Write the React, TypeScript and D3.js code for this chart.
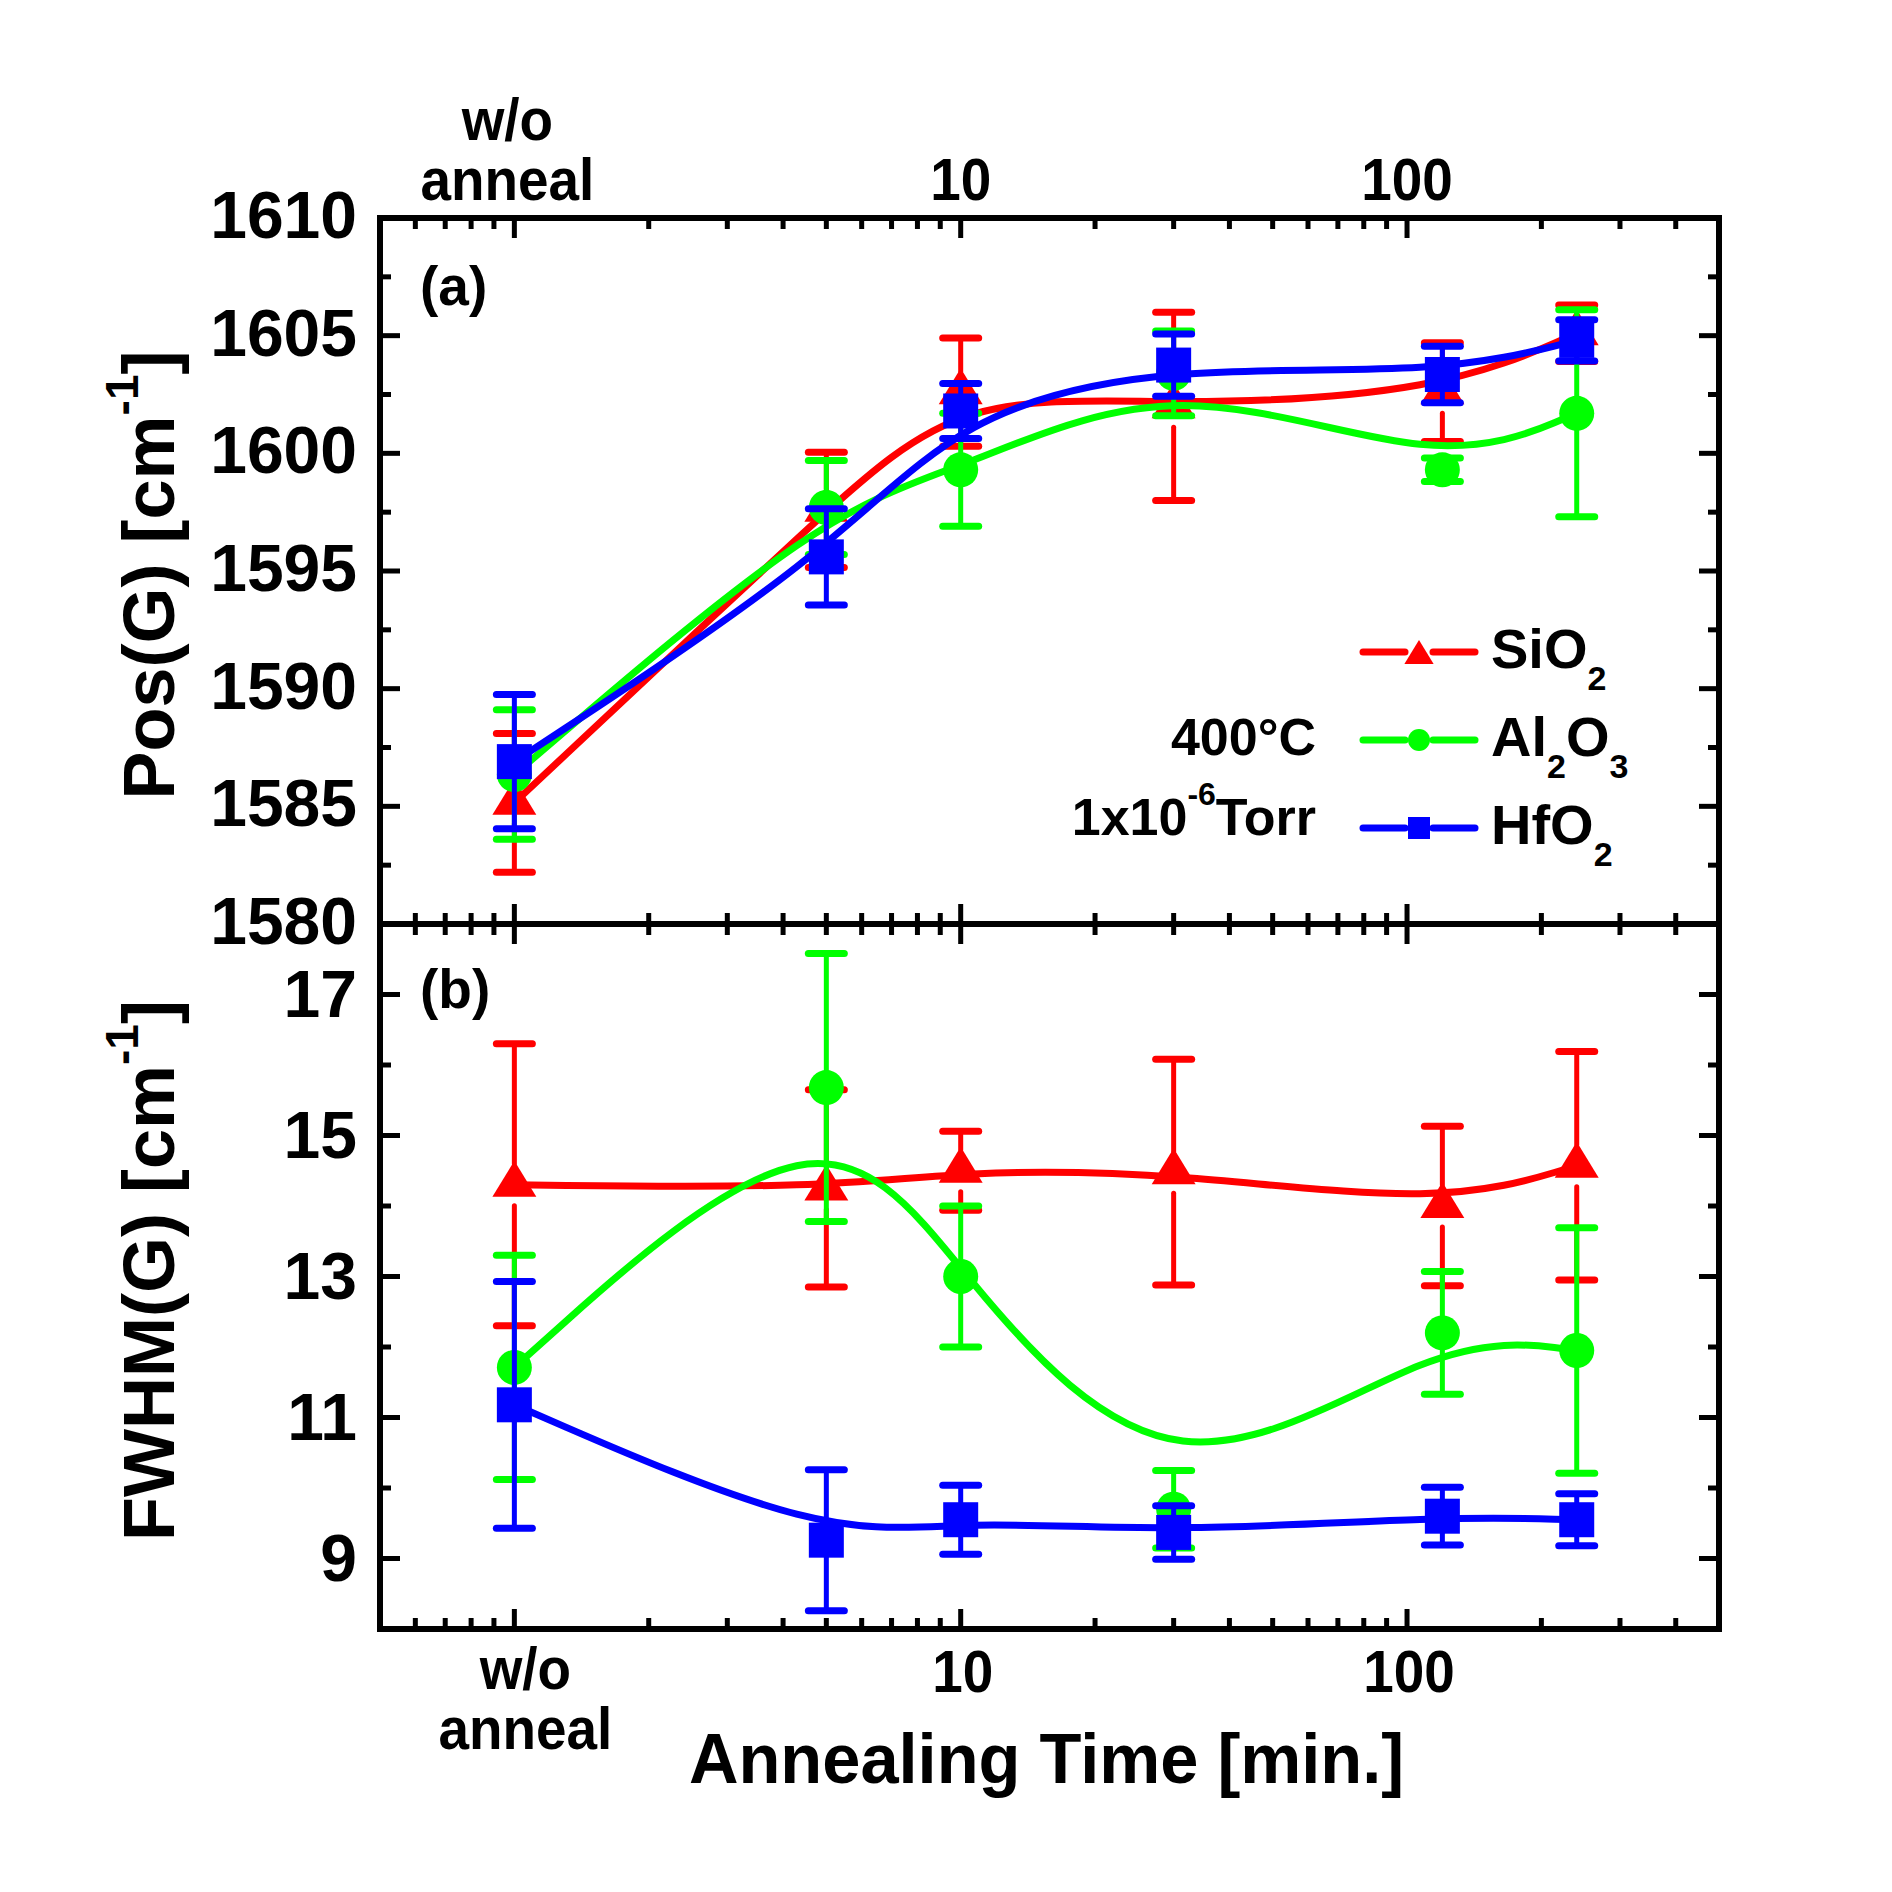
import React from "react";
import * as d3 from "d3";

// ---------- data ----------
const times = [1, 5, 10, 30, 120, 240]; // 1 = "w/o anneal"

const posSiO2 = [1585.15, 1597.6, 1602.6, 1602.0, 1602.6, 1605.1];
const posSiO2Err = [2.95, 2.45, 2.3, 4.0, 2.1, 1.2];
const posAl2O3 = [1586.35, 1597.7, 1599.3, 1603.4, 1599.3, 1601.7];
const posAl2O3Err = [2.75, 2.0, 2.4, 1.8, 0.5, 4.4];
const posHfO2 = [1586.9, 1595.6, 1601.8, 1603.75, 1603.35, 1604.8];
const posHfO2Err = [2.85, 2.05, 1.17, 1.32, 1.2, 0.88];

const fwSiO2 = [14.3, 14.25, 14.5, 14.48, 14.0, 14.57];
const fwSiO2Err = [2.0, 1.4, 0.56, 1.6, 1.13, 1.62];
const fwAl2O3 = [11.71, 15.68, 13.0, 9.7, 12.2, 11.95];
const fwAl2O3Err = [1.59, 1.9, 1.0, 0.55, 0.87, 1.74];
const fwHfO2 = [11.18, 9.26, 9.55, 9.37, 9.6, 9.55];
const fwHfO2Err = [1.75, 1.0, 0.49, 0.38, 0.41, 0.37];

const posTicks = [1580, 1585, 1590, 1595, 1600, 1605, 1610];
const posMinor = [1582.5, 1587.5, 1592.5, 1597.5, 1602.5, 1607.5];
const fwhmTicks = [9, 11, 13, 15, 17];
const fwhmMinor = [10, 12, 14, 16];
const xMajorTicks = [1, 10, 100];
const xTickLabels = [["w/o", "anneal"], ["10"], ["100"]];

const seriesNames = ["SiO2", "Al2O3", "HfO2"];
const seriesColors = ["#ff0000", "#00ff00", "#0000ff"];
const seriesShapes = ["triangle", "circle", "square"];

// ---------- layout ----------
const W = 1892;
const H = 1892;
const X0 = 380;
const X1 = 1719;
const YT = 218;
const YM = 924;
const YB = 1629;
const FONT = "'Liberation Sans', Arial, Helvetica, sans-serif";

const x = d3.scaleLog().domain([0.5, 500]).range([X0, X1]);
const yTop = d3.scaleLinear().domain([1580, 1610]).range([YM, YT]);
const yBot = d3.scaleLinear().domain([8, 18]).range([YB, YM]);

const xMinor = x
  .ticks()
  .filter((t) => !xMajorTicks.includes(t) && t > 0.5 && t < 500);

function Marker({ shape, cx, cy, s, color }: any) {
  if (shape === "triangle") {
    const w = s * 1.22;
    const h = s;
    const p = [
      [cx - w / 2, cy + h / 3],
      [cx + w / 2, cy + h / 3],
      [cx, cy - (2 * h) / 3],
    ];
    return <polygon points={p.map((q) => q.join(",")).join(" ")} fill={color} />;
  }
  if (shape === "circle") {
    return <circle cx={cx} cy={cy} r={s / 2} fill={color} />;
  }
  return <rect x={cx - s / 2} y={cy - s / 2} width={s} height={s} fill={color} />;
}

function Series({ vals, errs, y, color, shape }: any) {
  const pts: [number, number][] = times.map((t, i) => [t, vals[i]]);
  const line = d3
    .line<[number, number]>()
    .x((d) => x(d[0]))
    .y((d) => y(d[1]))
    .curve(d3.curveBasis);
  const gap = shape === "triangle" ? 21 : 17;
  return (
    <g>
      <path d={line(pts) || ""} fill="none" stroke={color} strokeWidth={7} />
      {times.map((t, i) => {
        const cx = x(t);
        const cy = y(vals[i]);
        const top = y(vals[i] + errs[i]);
        const bot = y(vals[i] - errs[i]);
        return (
          <g key={i} stroke={color} strokeLinecap="round">
            {cy - top > gap && <line x1={cx} x2={cx} y1={cy - gap} y2={top} strokeWidth={5} />}
            {bot - cy > gap && <line x1={cx} x2={cx} y1={cy + gap} y2={bot} strokeWidth={5} />}
            <line x1={cx - 18} x2={cx + 18} y1={top} y2={top} strokeWidth={7} />
            <line x1={cx - 18} x2={cx + 18} y1={bot} y2={bot} strokeWidth={7} />
          </g>
        );
      })}
      {times.map((t, i) => (
        <Marker key={i} shape={shape} cx={x(t)} cy={y(vals[i])} s={shape === "triangle" ? 36 : 35} color={color} />
      ))}
    </g>
  );
}

export default function App() {
  const posVals = [posSiO2, posAl2O3, posHfO2];
  const posErrs = [posSiO2Err, posAl2O3Err, posHfO2Err];
  const fwVals = [fwSiO2, fwAl2O3, fwHfO2];
  const fwErrs = [fwSiO2Err, fwAl2O3Err, fwHfO2Err];

  const tickW = 5;
  const maj = 20;
  const mnr = 11;

  const xTickMarks = (yy: number, dir: number, k: string) => (
    <g key={k} stroke="#000" strokeWidth={tickW}>
      {xMajorTicks.map((t) => (
        <line key={"M" + t} x1={x(t)} x2={x(t)} y1={yy} y2={yy + dir * maj} />
      ))}
      {xMinor.map((t) => (
        <line key={"m" + t} x1={x(t)} x2={x(t)} y1={yy} y2={yy + dir * mnr} />
      ))}
    </g>
  );

  const yTickMarks = (y: any, major: number[], minor: number[], k: string) => (
    <g key={k} stroke="#000" strokeWidth={tickW}>
      {major.map((v) => (
        <g key={"M" + v}>
          <line x1={X0} x2={X0 + maj} y1={y(v)} y2={y(v)} />
          <line x1={X1} x2={X1 - maj} y1={y(v)} y2={y(v)} />
        </g>
      ))}
      {minor.map((v) => (
        <g key={"m" + v}>
          <line x1={X0} x2={X0 + mnr} y1={y(v)} y2={y(v)} />
          <line x1={X1} x2={X1 - mnr} y1={y(v)} y2={y(v)} />
        </g>
      ))}
    </g>
  );

  const legendY = [652, 740, 828];

  return (
    <svg
      width={W}
      height={H}
      style={{ position: "absolute", left: 0, top: 0, background: "#fff" }}
      fontFamily={FONT}
      fontWeight="bold"
    >
      <rect x={0} y={0} width={W} height={H} fill="#fff" />

      {/* series */}
      {[0, 1, 2].map((i) => (
        <Series key={"p" + i} vals={posVals[i]} errs={posErrs[i]} y={yTop} color={seriesColors[i]} shape={seriesShapes[i]} />
      ))}
      {[0, 1, 2].map((i) => (
        <Series key={"f" + i} vals={fwVals[i]} errs={fwErrs[i]} y={yBot} color={seriesColors[i]} shape={seriesShapes[i]} />
      ))}

      {/* frames */}
      <rect x={X0} y={YT} width={X1 - X0} height={YM - YT} fill="none" stroke="#000" strokeWidth={6} />
      <rect x={X0} y={YM} width={X1 - X0} height={YB - YM} fill="none" stroke="#000" strokeWidth={6} />

      {xTickMarks(YT, 1, "t")}
      {xTickMarks(YM, -1, "m1")}
      {xTickMarks(YM, 1, "m2")}
      {xTickMarks(YB, -1, "b")}
      {yTickMarks(yTop, posTicks, posMinor, "yt")}
      {yTickMarks(yBot, fwhmTicks, fwhmMinor, "yb")}

      {/* y tick labels */}
      {posTicks.map((v) => (
        <text key={"pl" + v} x={357} y={yTop(v) + 20} textAnchor="end" fontSize={66}>
          {v}
        </text>
      ))}
      {fwhmTicks.map((v) => (
        <text key={"fl" + v} x={357} y={yBot(v) + 22} textAnchor="end" fontSize={66}>
          {v}
        </text>
      ))}

      {/* x tick labels, top */}
      {xMajorTicks.map((t, i) => {
        const lines = xTickLabels[i];
        const cx = lines.length > 1 ? x(t) - 7 : x(t);
        return lines.map((s, j) => (
          <text
            key={"xt" + i + j}
            transform={`translate(${cx}, ${200 - (lines.length - 1 - j) * 60}) scale(0.93, 1)`}
            textAnchor="middle"
            fontSize={59}
          >
            {s}
          </text>
        ));
      })}
      {/* x tick labels, bottom */}
      {xMajorTicks.map((t, i) => {
        const lines = xTickLabels[i];
        const cx = lines.length > 1 ? x(t) + 11 : x(t) + 2;
        return lines.map((s, j) => (
          <text
            key={"xb" + i + j}
            transform={`translate(${cx}, ${(lines.length > 1 ? 1689 : 1692) + j * 60}) scale(0.93, 1)`}
            textAnchor="middle"
            fontSize={59}
          >
            {s}
          </text>
        ));
      })}

      {/* axis titles */}
      <text transform={`translate(${(X0 + X1) / 2 - 3}, 1783) scale(0.98, 1)`} textAnchor="middle" fontSize={70}>
        Annealing Time [min.]
      </text>
      <text transform={`translate(174, ${(YT + YM) / 2 + 4}) rotate(-90)`} textAnchor="middle" fontSize={72}>
        Pos(G) [cm
        <tspan dy={-36} fontSize={46}>-1</tspan>
        <tspan dy={36}>]</tspan>
      </text>
      <text transform={`translate(174, ${(YM + YB) / 2 - 6}) rotate(-90)`} textAnchor="middle" fontSize={72}>
        FWHM(G) [cm
        <tspan dy={-36} fontSize={46}>-1</tspan>
        <tspan dy={36}>]</tspan>
      </text>

      {/* panel labels */}
      <text x={420} y={305} fontSize={55}>(a)</text>
      <text x={420} y={1008} fontSize={55}>(b)</text>

      {/* conditions */}
      <text x={1316} y={755} textAnchor="end" fontSize={52}>400°C</text>
      <text x={1316} y={835} textAnchor="end" fontSize={52}>
        1x10
        <tspan dy={-30} fontSize={32}>-6</tspan>
        <tspan dy={30}>Torr</tspan>
      </text>

      {/* legend */}
      {seriesNames.map((name, i) => {
        const ly = legendY[i];
        const color = seriesColors[i];
        const parts = name.match(/[A-Za-z]+|\d+/g) || [];
        return (
          <g key={"lg" + i}>
            <line x1={1363} x2={1405} y1={ly} y2={ly} stroke={color} strokeWidth={7} strokeLinecap="round" />
            <line x1={1433} x2={1475} y1={ly} y2={ly} stroke={color} strokeWidth={7} strokeLinecap="round" />
            <Marker shape={seriesShapes[i]} cx={1419} cy={ly + (seriesShapes[i] === "triangle" ? 4 : 0)} s={seriesShapes[i] === "triangle" ? 24 : 22} color={color} />
            <text x={1491} y={ly + 16} fontSize={56}>
              {parts.map((p, j) =>
                /\d/.test(p) ? (
                  <tspan key={j} dy={22} fontSize={34}>{p}</tspan>
                ) : (
                  <tspan key={j} dy={j === 0 ? 0 : -22}>{p}</tspan>
                )
              )}
            </text>
          </g>
        );
      })}
    </svg>
  );
}
